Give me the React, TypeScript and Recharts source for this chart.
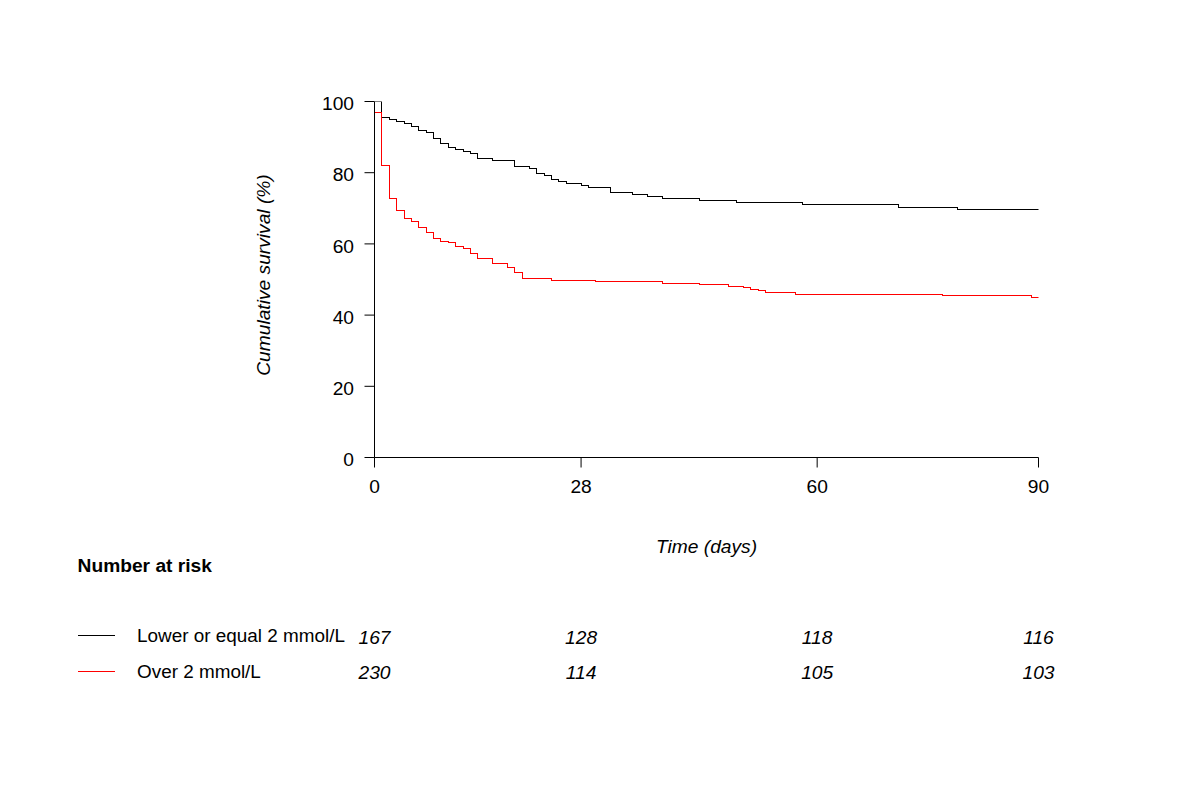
import React from 'react';
import { LineChart, Line, XAxis, YAxis } from 'recharts';

const timeTicks = [0, 28, 60, 90];
const survTicks = [0, 20, 40, 60, 80, 100];

const lowDays = [0, 1, 2, 3, 4, 5, 6, 7, 8, 9, 10, 11, 12, 13, 14, 16, 19, 21, 22, 23, 24, 25, 26, 28, 29, 32, 35, 37, 39, 44, 49, 58, 71, 79, 90];
const lowSurv = [100, 95.4, 94.9, 94.4, 93.8, 93.0, 91.9, 91.3, 89.6, 88.2, 87.1, 86.5, 86.0, 85.4, 84.0, 83.4, 81.7, 81.2, 79.8, 79.2, 78.1, 77.5, 77.0, 76.4, 75.8, 74.3, 73.8, 73.2, 72.7, 72.1, 71.5, 71.0, 70.2, 69.7, 69.7];

const highDays = [0, 1, 2, 3, 4, 5, 6, 7, 8, 9, 10, 11, 12, 13, 14, 16, 18, 19, 20, 24, 30, 39, 44, 48, 50, 51, 52, 53, 57, 77, 89, 90];
const highSurv = [96.8, 81.9, 72.7, 69.3, 67.0, 66.2, 64.5, 63.1, 61.4, 60.7, 60.3, 59.2, 58.8, 57.2, 55.8, 54.5, 53.3, 52.0, 50.2, 49.6, 49.4, 48.8, 48.5, 47.9, 47.7, 47.1, 46.8, 46.3, 45.7, 45.4, 44.9, 44.9];

const lowAtRisk = [167, 128, 118, 116];
const highAtRisk = [230, 114, 105, 103];
const groupNames = ['Lower or equal 2 mmol/L', 'Over 2 mmol/L'];
const groupColors = ['#000000', '#ff0000'];

const lowData = lowDays.map((t, i) => ({ t, s: lowSurv[i] }));
const highData = highDays.map((t, i) => ({ t, s: highSurv[i] }));

const FONT = '"Liberation Sans", Arial, Helvetica, sans-serif';
const FS = 19.2;
const FS_LEGEND = 18.9;

function XTick(props: any) {
  const { x, y, payload } = props;
  const i = timeTicks.indexOf(payload.value);
  return (
    <g>
      <text x={x} y={y + 25} textAnchor="middle" fill="#000" fontFamily={FONT} fontSize={FS}>
        {payload.value}
      </text>
      <text x={x} y={y + 176.5} textAnchor="middle" fill="#000" fontFamily={FONT} fontSize={FS} fontStyle="italic">
        {lowAtRisk[i]}
      </text>
      <text x={x} y={y + 211} textAnchor="middle" fill="#000" fontFamily={FONT} fontSize={FS} fontStyle="italic">
        {highAtRisk[i]}
      </text>
    </g>
  );
}

function YTick(props: any) {
  const { x, y, payload } = props;
  return (
    <text x={x} y={y + 8.7} textAnchor="end" fill="#000" fontFamily={FONT} fontSize={FS}>
      {payload.value}
    </text>
  );
}

export default function App() {
  return (
    <div style={{ position: 'absolute', left: 0, top: 0, width: 1190, height: 792, background: '#fff' }}>
      <LineChart width={1190} height={792} margin={{ top: 101.5, right: 151.5, bottom: 0, left: 0 }}>
        <XAxis
          xAxisId={0}
          type="number"
          dataKey="t"
          domain={[0, 90]}
          ticks={timeTicks}
          interval={0}
          height={334.5}
          tickSize={10}
          tickMargin={0}
          stroke="#000"
          tick={<XTick />}
          allowDataOverflow
        />
        <YAxis
          yAxisId={0}
          type="number"
          domain={[0, 100]}
          ticks={survTicks}
          interval={0}
          width={374.5}
          tickSize={10}
          tickMargin={10.5}
          stroke="#000"
          tick={<YTick />}
          allowDataOverflow
        />
        <Line
          data={lowData}
          dataKey="s"
          type="stepAfter"
          stroke={groupColors[0]}
          strokeWidth={1}
          shapeRendering="crispEdges"
          dot={false}
          activeDot={false}
          isAnimationActive={false}
        />
        <Line
          data={highData}
          dataKey="s"
          type="stepAfter"
          stroke={groupColors[1]}
          strokeWidth={1}
          shapeRendering="crispEdges"
          dot={false}
          activeDot={false}
          isAnimationActive={false}
        />
      </LineChart>
      <svg
        width={1190}
        height={792}
        style={{ position: 'absolute', left: 0, top: 0, pointerEvents: 'none' }}
      >
        <text
          x={269.5}
          y={275}
          transform="rotate(-90 269.5 275)"
          textAnchor="middle"
          fill="#000"
          fontFamily={FONT}
          fontSize={FS}
          fontStyle="italic"
        >
          Cumulative survival (%)
        </text>
        <text x={706.5} y={553} textAnchor="middle" fill="#000" fontFamily={FONT} fontSize={FS} fontStyle="italic">
          Time (days)
        </text>
        <text x={77.6} y={571.7} fill="#000" fontFamily={FONT} fontSize={FS} fontWeight="bold">
          Number at risk
        </text>
        {groupNames.map((name, i) => (
          <g key={name}>
            <line
              x1={78}
              x2={115}
              y1={635.5 + i * 36}
              y2={635.5 + i * 36}
              stroke={groupColors[i]}
              strokeWidth={1}
              shapeRendering="crispEdges"
            />
            <text x={137} y={641.7 + i * 36.6} fill="#000" fontFamily={FONT} fontSize={FS_LEGEND}>
              {name}
            </text>
          </g>
        ))}
      </svg>
    </div>
  );
}
